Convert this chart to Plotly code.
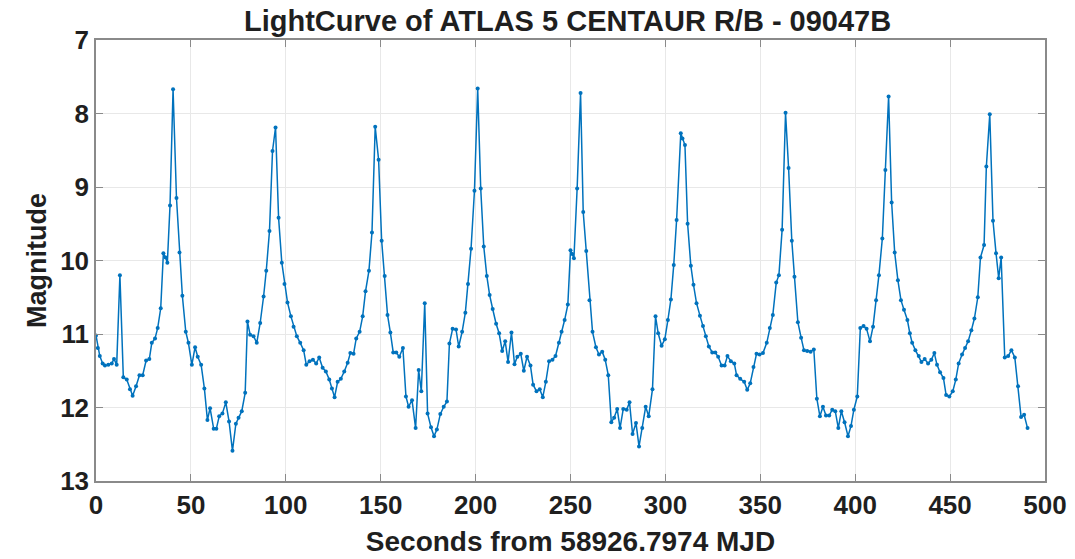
import plotly.graph_objects as go

# Light curve samples: time offset (s) and apparent magnitude
seconds = [
    0, 1.0, 2.0, 3.5, 4.7, 6.5, 8.3, 9.5, 10.9, 12.6, 14.4, 16.2, 17.9, 19.3, 21.1, 22.9, 24.6, 26.4, 28.1, 29.4,
    31.1, 32.5, 34.1, 35.5, 36.7, 37.6, 39.0, 40.6, 42.4, 44.0, 45.5, 47.3, 48.7, 50.5, 52.2, 53.6, 55.4, 57.1, 58.7, 60.1,
    62.0, 63.4, 64.9, 66.6, 68.4, 70.1, 71.9, 73.7, 75.1, 76.8, 78.6, 79.8, 81.2, 83.0, 84.7, 86.5, 88.3, 89.7, 91.4, 93.0,
    94.6, 96.2, 97.9, 99.3, 100.9, 102.7, 104.1, 105.8, 107.6, 109.4, 110.8, 112.5, 114.3, 116.0, 117.6, 119.4, 121.1, 122.9,
    124.3, 125.7, 127.3, 129.0, 130.8, 132.6, 134.0, 135.7, 137.1, 138.9, 140.5, 142.0, 143.8, 145.4, 147.1, 148.9, 150.5,
    152.1, 153.6, 155.1, 156.6, 158.2, 159.8, 161.7, 163.3, 164.7, 166.5, 168.4, 170.0, 171.4, 173.2, 174.7, 176.5, 178.1,
    179.6, 181.4, 183.2,
    184.9, 186.2, 187.9, 189.7, 191.1, 192.9, 194.6, 196.0, 197.6, 199.4, 201.1, 202.7, 204.3, 205.9, 207.4, 209.0, 210.8,
    212.4, 214.0, 215.6, 217.1, 218.9, 220.5, 222.0, 223.8, 225.4, 227.1, 228.9, 230.3, 232.1, 233.8, 235.4, 237.0, 238.7,
    240.5, 242.1, 243.9,
    245.3, 246.9, 248.6, 250.0, 250.9, 251.8, 253.5, 255.3, 256.7, 258.3, 260.0, 261.6, 263.4, 265.0, 266.7, 268.3, 269.9,
    271.5, 273.0, 274.6, 276.1, 277.8, 279.6, 281.1, 282.7, 284.5, 286.1, 287.8, 289.6, 291.2, 293.2, 294.8, 296.2, 298.0,
    299.7, 301.3, 302.9, 304.4, 305.9,
    308.1, 309.0, 310.3, 311.7, 313.4, 314.8, 316.4, 318.2, 319.8, 321.3, 322.9, 324.7, 326.3, 327.8, 329.6, 331.2, 332.7,
    334.5, 336.3, 337.5, 339.4, 341.5, 343.1, 344.7, 346.4, 348.0, 349.6, 351.4, 353.4, 355.0, 356.6, 358.4, 359.8, 361.5,
    363.3, 364.9, 366.6, 368.0,
    369.8, 371.5, 373.0, 374.7, 376.5, 378.2, 379.8, 381.4, 383.0, 384.6, 386.3, 387.9, 389.5, 391.1, 392.7, 394.4, 396.2,
    397.8, 399.3, 401.1, 402.7, 404.4, 406.0, 407.8, 409.4, 411.0, 412.5, 414.3, 415.9, 417.6, 419.2, 420.8, 422.5, 424.1,
    425.7, 427.5, 428.8,
    430.0, 431.7, 433.5, 434.9, 436.6, 438.4, 440.1, 441.7, 443.1, 444.7, 446.5, 447.9, 449.6, 451.4, 453.0, 454.5, 456.3,
    457.9, 459.5, 461.2, 462.8, 464.6, 466.0, 467.9, 469.1, 470.9, 472.6, 474.2, 475.6, 476.9, 478.8, 480.6, 482.3, 484.1,
    485.8, 487.4, 489.0, 490.8,
]

magnitude = [
    11.02, 11.19, 11.30, 11.40, 11.43, 11.42, 11.40, 11.34, 11.42, 10.20, 11.59, 11.62, 11.75, 11.84, 11.71, 11.56, 11.56,
    11.36, 11.34, 11.12, 11.06, 10.92, 10.65, 9.90, 9.96, 10.03, 9.25, 7.67, 9.15, 9.89, 10.48, 10.97, 11.12, 11.42, 11.18,
    11.31, 11.42, 11.74, 12.17, 12.01, 12.29,
    12.29, 12.12, 12.08, 11.93, 12.19, 12.59, 12.22, 12.14, 12.05, 11.80, 10.83, 11.01, 11.03, 11.12, 10.85, 10.49, 10.14,
    9.60, 8.51, 8.19, 9.42, 10.03, 10.32, 10.57, 10.76, 10.90, 11.03, 11.12, 11.22, 11.42, 11.37, 11.35, 11.40, 11.32,
    11.46, 11.51, 11.62,
    11.74, 11.86, 11.65, 11.61, 11.51, 11.39, 11.26, 11.27, 11.06, 10.97, 10.76, 10.42, 10.14, 9.62, 8.18, 8.63, 9.73,
    10.21, 10.74, 10.98, 11.25, 11.25, 11.31, 11.19, 11.85, 11.99, 11.90, 12.28, 11.49, 11.78, 10.58, 12.08, 12.27, 12.39,
    12.30, 12.09, 11.99,
    11.92, 11.13, 10.93, 10.94, 11.17, 10.97, 10.71, 10.32, 9.84, 9.05, 7.66, 9.02, 9.81, 10.21, 10.47, 10.66, 10.86,
    10.99, 11.23, 11.10, 11.38, 10.98, 11.41, 11.31, 11.27, 11.50, 11.31, 11.43, 11.69, 11.78, 11.75, 11.86, 11.65, 11.37,
    11.35, 11.30, 11.12,
    10.97, 10.81, 10.60, 9.86, 9.91, 9.97, 9.02, 7.72, 9.34, 9.87, 10.54, 10.97, 11.18, 11.28, 11.24, 11.35, 11.56,
    12.20, 12.14, 12.02, 12.28, 12.02, 12.03, 11.93, 12.36, 12.21, 12.53, 12.28, 11.99, 12.12, 11.75, 10.76, 10.99, 11.16,
    11.07, 10.81, 10.53, 10.06, 9.45,
    8.27, 8.34, 8.43, 9.50, 10.07, 10.33, 10.58, 10.75, 10.89, 11.03, 11.17, 11.25, 11.25, 11.31, 11.43, 11.43, 11.30,
    11.37, 11.40, 11.56, 11.61, 11.65, 11.76, 11.67, 11.45, 11.27, 11.28, 11.26, 11.12, 10.92, 10.74, 10.30, 10.20, 9.58,
    7.99, 8.74, 9.73, 10.22,
    10.84, 11.05, 11.22, 11.23, 11.24, 11.21, 11.88, 12.12, 11.99, 12.11, 12.11, 12.03, 12.05, 12.28, 12.05, 12.20, 12.39,
    12.25, 12.03, 11.85, 10.92, 10.89, 10.93, 11.10, 10.90, 10.54, 10.20, 9.70, 8.77, 7.77, 9.21, 9.89, 10.27, 10.54,
    10.67, 10.81, 10.99,
    11.12, 11.22, 11.30, 11.38, 11.34, 11.40, 11.35, 11.26, 11.42, 11.52, 11.60, 11.83, 11.85, 11.78, 11.62, 11.40, 11.28,
    11.19, 11.10, 10.95, 10.79, 10.50, 9.96, 9.79, 8.72, 8.01, 9.46, 9.90, 10.24, 9.96, 11.32, 11.30, 11.22, 11.32,
    11.71, 12.13, 12.10, 12.28,
]

x_ticks = [0, 50, 100, 150, 200, 250, 300, 350, 400, 450, 500]
y_ticks = [7, 8, 9, 10, 11, 12, 13]

LINE_BLUE = "#0072BD"
AXIS_GREY = "#8a8a8a"
GRID_GREY = "#e8e8e8"
TEXT = "#1f1f1f"
FONT = "Liberation Sans"

fig = go.Figure(
    go.Scatter(
        x=seconds,
        y=magnitude,
        mode="lines+markers",
        line=dict(color=LINE_BLUE, width=1.5),
        marker=dict(color=LINE_BLUE, size=4),
        showlegend=False,
    )
)

axis_common = dict(
    automargin=False,
    showgrid=True,
    gridcolor=GRID_GREY,
    gridwidth=1,
    showline=True,
    linecolor=AXIS_GREY,
    linewidth=1.5,
    mirror="ticks",
    ticks="inside",
    ticklen=7,
    tickcolor=AXIS_GREY,
    tickwidth=1,
    zeroline=False,
    tickfont=dict(family=FONT, size=26, color=TEXT, weight="bold"),
)

fig.update_layout(
    width=1075,
    height=559,
    margin=dict(l=96, r=30, t=40, b=78),
    paper_bgcolor="white",
    plot_bgcolor="white",
    title=dict(
        text="LightCurve of ATLAS 5 CENTAUR R/B - 09047B",
        font=dict(family=FONT, size=29, color=TEXT, weight="bold"),
        x=0.528,
        xanchor="center",
        y=0.962,
        yanchor="middle",
        yref="container",
    ),
    xaxis=dict(
        range=[0, 500],
        tickvals=x_ticks,
        ticktext=[str(v) for v in x_ticks],
        title=dict(
            text="Seconds from 58926.7974 MJD",
            font=dict(family=FONT, size=28, color=TEXT, weight="bold"),
            standoff=12,
        ),
        **axis_common,
    ),
    yaxis=dict(
        range=[13, 7],
        tickvals=y_ticks,
        ticktext=[str(v) for v in y_ticks],
        title=dict(
            text="Magnitude",
            font=dict(family=FONT, size=27, color=TEXT, weight="bold"),
            standoff=6,
        ),
        **axis_common,
    ),
)

fig.write_html("out.html")
